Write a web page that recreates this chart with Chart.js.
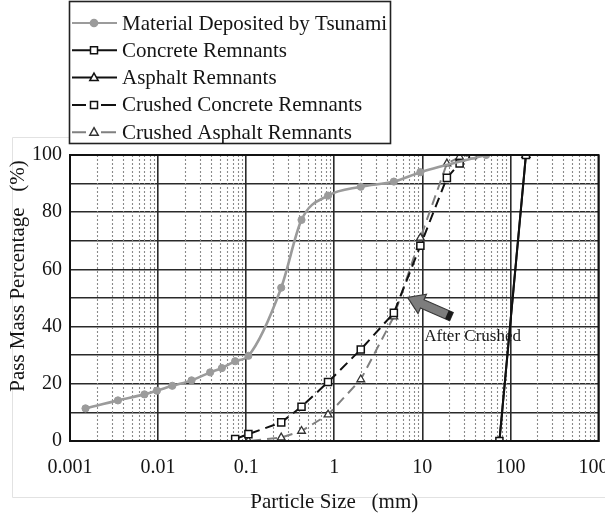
<!DOCTYPE html>
<html>
<head>
<meta charset="utf-8">
<script src="https://cdn.jsdelivr.net/npm/chart.js@4.4.1/dist/chart.umd.min.js"></script>
<style>
html,body{margin:0;padding:0;background:#fff;}
#wrap{position:relative;width:605px;height:513px;}
</style>
</head>
<body>
<div id="wrap"><canvas id="c" width="605" height="513"></canvas></div>
<script>
// ---- tick labels ----
const xTickLabels = ['0.001','0.01','0.1','1','10','100','1000'];
const yTickLabels = ['0','20','40','60','80','100'];

// ---- series (particle size in mm, pass mass percentage in %) ----
const seriesNames = [
  'Material Deposited by Tsunami',
  'Concrete Remnants',
  'Asphalt Remnants',
  'Crushed Concrete Remnants',
  'Crushed Asphalt Remnants'
];

const tsunamiSize = [0.0015,0.0035,0.007,0.0097,0.0145,0.024,0.039,0.053,0.075,0.106,0.25,0.425,0.85,2,4.75,9.5,53];
const tsunamiPass = [11.4,14.2,16.3,17.6,19.3,21.2,24.0,25.5,27.9,29.8,53.6,77.3,85.8,88.9,90.7,94.0,100];

const concreteSize = [75,150];
const concretePass = [0,100];

const asphaltSize = [75,150];
const asphaltPass = [0,100];

const crushedConcreteSize = [0.075,0.106,0.25,0.425,0.85,2,4.75,9.5,19,26.5,37.5];
const crushedConcretePass = [0.7,2.4,6.5,12.0,20.6,32.0,44.8,68.3,92.0,97.0,100];

const crushedAsphaltSize = [0.075,0.106,0.25,0.425,0.85,2,4.75,9.5,19,26.5,37.5];
const crushedAsphaltPass = [0,0,1.2,3.5,9.2,21.5,43.5,71.0,97.0,99.3,100];

// ---- annotation (data coordinates) ----
const annotationText = 'After Crushed';
const arrowTail = [21.4, 43.5];
const arrowTip = [6.8, 50.2];
const annotationAt = [10.5, 36.4];

const SERIF = '"Liberation Serif", "Times New Roman", "DejaVu Serif", serif';

function zip(xs, ys){ return xs.map((x,i)=>({x:x, y:ys[i]})); }

function isPow10(v){ const l = Math.log10(v); return Math.abs(l - Math.round(l)) < 1e-9; }

const datasets = [
  {
    label: seriesNames[0], data: zip(tsunamiSize, tsunamiPass),
    borderColor:'#9b9b9b', backgroundColor:'#9b9b9b', borderWidth:2.6,
    pointStyle:'circle', pointRadius:3.6, pointBackgroundColor:'#9b9b9b', pointBorderColor:'#9b9b9b', pointBorderWidth:1,
    cubicInterpolationMode:'monotone', _legend:{dash:false, style:'circle', fill:'#9b9b9b', stroke:'#9b9b9b'}
  },
  {
    label: seriesNames[1], data: zip(concreteSize, concretePass),
    borderColor:'#111', backgroundColor:'#fff', borderWidth:2,
    pointStyle:'rect', pointRadius:5, pointBackgroundColor:'#fff', pointBorderColor:'#111', pointBorderWidth:1.5,
    tension:0, _legend:{dash:false, style:'rect', fill:'#fff', stroke:'#111'}
  },
  {
    label: seriesNames[2], data: zip(asphaltSize, asphaltPass),
    borderColor:'#111', backgroundColor:'#fff', borderWidth:2,
    pointStyle:'triangle', pointRadius:4.5, pointBackgroundColor:'#fff', pointBorderColor:'#111', pointBorderWidth:1.5,
    tension:0, _legend:{dash:false, style:'triangle', fill:'#fff', stroke:'#111'}
  },
  {
    label: seriesNames[3], data: zip(crushedConcreteSize, crushedConcretePass),
    borderColor:'#111', backgroundColor:'#fff', borderWidth:2, borderDash:[10,6],
    pointStyle:'rect', pointRadius:5, pointBackgroundColor:'#fff', pointBorderColor:'#111', pointBorderWidth:1.5,
    tension:0, _legend:{dash:true, style:'rect', fill:'#fff', stroke:'#111'}
  },
  {
    label: seriesNames[4], data: zip(crushedAsphaltSize, crushedAsphaltPass),
    borderColor:'#808080', backgroundColor:'#fff', borderWidth:2, borderDash:[10,6],
    pointStyle:'triangle', pointRadius:4.5, pointBackgroundColor:'#fff', pointBorderColor:'#333', pointBorderWidth:1.3,
    tension:0, _legend:{dash:true, style:'triangle', fill:'#fff', stroke:'#333'}
  }
];

function drawMarker(ctx, style, x, y, fill, stroke){
  ctx.save();
  ctx.setLineDash([]);
  ctx.fillStyle = fill; ctx.strokeStyle = stroke; ctx.lineWidth = 1.5;
  ctx.beginPath();
  if (style === 'circle') { ctx.arc(x, y, 3.6, 0, Math.PI*2); }
  else if (style === 'rect') { ctx.rect(x-3.5, y-3.5, 7, 7); }
  else { ctx.moveTo(x, y-4.5); ctx.lineTo(x+4.2, y+3); ctx.lineTo(x-4.2, y+3); ctx.closePath(); }
  ctx.fill(); ctx.stroke();
  ctx.restore();
}

const customPlugin = {
  id: 'custom',
  beforeDraw(chart){
    const ctx = chart.ctx;
    ctx.save();
    ctx.fillStyle = '#fff';
    ctx.fillRect(0, 0, chart.width, chart.height);
    // faint figure frame
    ctx.strokeStyle = '#e2e2e2'; ctx.lineWidth = 1;
    ctx.beginPath();
    ctx.moveTo(12.5, 137.5); ctx.lineTo(69, 137.5);
    ctx.moveTo(12.5, 137.5); ctx.lineTo(12.5, 497.5);
    ctx.lineTo(605, 497.5);
    ctx.stroke();
    ctx.restore();
  },
  beforeDatasetsDraw(chart){
    const ctx = chart.ctx, xs = chart.scales.x, a = chart.chartArea;
    ctx.save();
    ctx.strokeStyle = '#8a8a8a'; ctx.lineWidth = 1.1; ctx.setLineDash([2,2]);
    xs.ticks.forEach(t => {
      if (isPow10(t.value)) return;
      const px = Math.round(xs.getPixelForValue(t.value)) + 0.5;
      ctx.beginPath(); ctx.moveTo(px, a.top); ctx.lineTo(px, a.bottom); ctx.stroke();
    });
    ctx.restore();
  },
  afterDatasetsDraw(chart){
    const ctx = chart.ctx, xs = chart.scales.x, ys = chart.scales.y, a = chart.chartArea;
    ctx.save();
    // plot border
    ctx.strokeStyle = '#111'; ctx.lineWidth = 2;
    ctx.strokeRect(a.left, a.top, a.right - a.left, a.bottom - a.top);
    // arrow
    const tx = xs.getPixelForValue(arrowTip[0]), ty = ys.getPixelForValue(arrowTip[1]);
    const bx = xs.getPixelForValue(arrowTail[0]), by = ys.getPixelForValue(arrowTail[1]);
    const ang = Math.atan2(ty - by, tx - bx);
    const len = Math.hypot(tx - bx, ty - by);
    ctx.translate(bx, by); ctx.rotate(ang);
    const sw = 4.5, hw = 10.5, hl = 16;
    ctx.beginPath();
    ctx.moveTo(0, -sw); ctx.lineTo(len - hl, -sw); ctx.lineTo(len - hl, -hw);
    ctx.lineTo(len, 0); ctx.lineTo(len - hl, hw); ctx.lineTo(len - hl, sw);
    ctx.lineTo(0, sw); ctx.closePath();
    ctx.fillStyle = '#7d7d7d'; ctx.fill();
    ctx.strokeStyle = '#3a3a3a'; ctx.lineWidth = 1.2; ctx.stroke();
    ctx.fillStyle = '#1a1a1a'; ctx.fillRect(0, -sw, 5, 2*sw);
    ctx.setTransform(1,0,0,1,0,0);
    // annotation text
    ctx.fillStyle = '#1a1a1a';
    ctx.font = '17px ' + SERIF;
    ctx.textAlign = 'left'; ctx.textBaseline = 'middle';
    ctx.fillText(annotationText, xs.getPixelForValue(annotationAt[0]), ys.getPixelForValue(annotationAt[1]));
    ctx.restore();
  },
  afterDraw(chart){
    const ctx = chart.ctx;
    ctx.save();
    ctx.strokeStyle = '#222'; ctx.lineWidth = 1.6;
    ctx.strokeRect(69.5, 1.5, 321, 142);
    chart.data.datasets.forEach((ds, i) => {
      const y = 23 + 27.3 * i;
      const lg = ds._legend;
      ctx.strokeStyle = ds.borderColor; ctx.lineWidth = 2;
      ctx.beginPath();
      if (lg.dash) { ctx.moveTo(72, y); ctx.lineTo(86, y); ctx.moveTo(101, y); ctx.lineTo(116, y); }
      else { ctx.moveTo(72, y); ctx.lineTo(117, y); }
      ctx.stroke();
      drawMarker(ctx, lg.style, 94, y, lg.fill, lg.stroke);
      ctx.fillStyle = '#151515';
      ctx.font = '21px ' + SERIF;
      ctx.textAlign = 'left'; ctx.textBaseline = 'middle';
      ctx.fillText(ds.label, 122, y + 1);
    });
    ctx.restore();
  }
};

new Chart(document.getElementById('c'), {
  type: 'line',
  data: { datasets: datasets },
  plugins: [customPlugin],
  options: {
    responsive: false,
    animation: false,
    parsing: true,
    layout: { padding: { top: 155, left: 0, right: 4, bottom: 0 } },
    plugins: { legend: { display: false }, tooltip: { enabled: false } },
    scales: {
      x: {
        type: 'logarithmic', min: 0.001, max: 1000,
        afterBuildTicks(scale){
          const t = [];
          for (let e = -3; e <= 2; e++) {
            for (let m = 1; m <= 9; m++) t.push({ value: Number((m * Math.pow(10, e)).toPrecision(6)) });
          }
          t.push({ value: 1000 });
          scale.ticks = t;
        },
        afterFit(scale){ scale.height = 72; scale.paddingLeft = 0; scale.paddingRight = 0; },
        ticks: {
          autoSkip: false, maxRotation: 0, minRotation: 0, padding: 15,
          color: '#151515', font: { family: SERIF, size: 20 },
          callback(v){ return isPow10(v) ? xTickLabels[Math.round(Math.log10(v)) + 3] : ''; }
        },
        grid: {
          drawTicks: false,
          color: ctx => (ctx.tick && isPow10(ctx.tick.value)) ? '#2a2a2a' : 'rgba(0,0,0,0)',
          lineWidth: 1.6
        },
        border: { display: true, color: '#111', width: 2 },
        title: {
          display: true, text: 'Particle Size   (mm)', color: '#151515',
          font: { family: SERIF, size: 21, lineHeight: 1 }, padding: { top: 0, bottom: 0 }
        }
      },
      y: {
        type: 'linear', min: 0, max: 100,
        afterFit(scale){ scale.width = 70; },
        ticks: {
          stepSize: 10, padding: 8, color: '#151515', font: { family: SERIF, size: 20 },
          callback(v){ return (v % 20 === 0) ? yTickLabels[v / 20] : ''; }
        },
        grid: { drawTicks: false, color: '#2a2a2a', lineWidth: 1.6 },
        border: { display: true, color: '#111', width: 2 },
        title: {
          display: true, text: 'Pass Mass Percentage   (%) ', align: 'end', color: '#151515',
          font: { family: SERIF, size: 21, lineHeight: 1.2 }, padding: { top: 6, bottom: 0 }
        }
      }
    }
  }
});
</script>
</body>
</html>
